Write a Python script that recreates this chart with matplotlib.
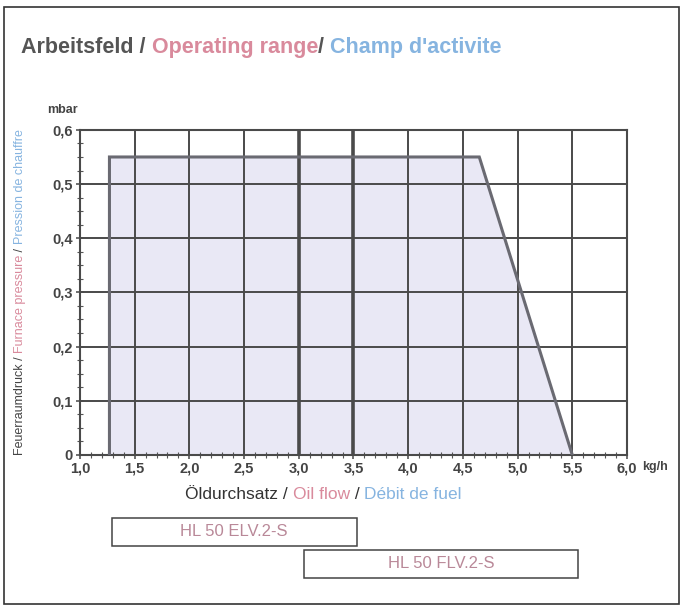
import matplotlib.pyplot as plt
from matplotlib.patches import Rectangle
from matplotlib.transforms import offset_copy, blended_transform_factory
from matplotlib.ticker import MultipleLocator

plt.rcParams['font.family'] = ['Liberation Sans', 'DejaVu Sans']

# operating range polygon (oil flow kg/h, furnace pressure mbar)
flow = [1.27, 1.27, 4.65, 5.5]
pressure = [0.0, 0.55, 0.55, 0.0]

x_ticks = [1.0, 1.5, 2.0, 2.5, 3.0, 3.5, 4.0, 4.5, 5.0, 5.5, 6.0]
x_labels = ['1,0', '1,5', '2,0', '2,5', '3,0', '3,5', '4,0', '4,5', '5,0', '5,5', '6,0']
y_ticks = [0.0, 0.1, 0.2, 0.3, 0.4, 0.5, 0.6]
y_labels = ['0', '0,1', '0,2', '0,3', '0,4', '0,5', '0,6']

# burner models and their flow ranges
models = ['HL 50 ELV.2-S', 'HL 50 FLV.2-S']
model_from = [1.29, 3.05]
model_to = [3.53, 5.55]

GREY = '#555555'
PINK = '#d98a9c'
BLUE = '#86b4e0'

fig = plt.figure(figsize=(6.83, 6.09), dpi=100)
ax = fig.add_axes([0.117, 0.253, 0.801, 0.5337])

ax.fill(flow, pressure, facecolor='#e9e8f5', edgecolor='none', zorder=1)
ax.plot(flow, pressure, color='#6a6a72', lw=2.2, zorder=3, solid_joinstyle='miter')

ax.set_xlim(1.0, 6.0)
ax.set_ylim(0, 0.6)
ax.set_xticks(x_ticks)
ax.set_xticklabels(x_labels)
ax.set_yticks(y_ticks)
ax.set_yticklabels(y_labels)
ax.xaxis.set_minor_locator(MultipleLocator(0.1))
ax.yaxis.set_minor_locator(MultipleLocator(0.025))
ax.tick_params(which='major', direction='inout', length=6, width=1.2, color=GREY,
               labelsize=10.5, labelcolor='#444444', pad=2)
ax.tick_params(which='minor', direction='inout', length=4, width=0.8, color=GREY)
for lab in ax.get_xticklabels() + ax.get_yticklabels():
    lab.set_fontweight('bold')

for xv in x_ticks[1:-1]:
    w = 2.6 if xv in (3.0, 3.5) else 1.4
    ax.axvline(xv, color='#4a4a4a', lw=w, zorder=2)
for yv in y_ticks[1:-1]:
    ax.axhline(yv, color='#4a4a4a', lw=1.4, zorder=2)
for s in ax.spines.values():
    s.set_color('#4a4a4a')
    s.set_linewidth(1.5)

# outer frame
fig.patches.append(Rectangle((0.006, 0.008), 0.988, 0.98, transform=fig.transFigure,
                             fill=False, edgecolor='#333333', lw=1.2))


def rainbow(x, y, parts, size, rotation=0, weight='normal'):
    fig.canvas.draw()
    renderer = fig.canvas.get_renderer()
    t = fig.transFigure
    for s, c in parts:
        if rotation == 0:
            txt = fig.text(x, y, s, color=c, fontsize=size, transform=t, weight=weight,
                           ha='left', va='baseline')
        else:
            txt = fig.text(x, y, s, color=c, fontsize=size, transform=t, rotation=90,
                           weight=weight, ha='center', va='bottom')
        txt.draw(renderer)
        ex = txt.get_window_extent(renderer)
        if rotation == 0:
            t = offset_copy(txt.get_transform(), x=ex.width, units='dots')
        else:
            t = offset_copy(txt.get_transform(), y=ex.height, units='dots')


rainbow(0.031, 1 - 53 / 609, [('Arbeitsfeld / ', GREY), ('Operating range', PINK),
                              ('/ ', GREY), ("Champ d'activite", BLUE)], 15.5,
        weight='bold')
rainbow(0.271, 1 - 499 / 609, [('Öldurchsatz / ', '#333333'), ('Oil flow', PINK),
                               (' / ', '#333333'), ('Débit de fuel', BLUE)], 12.5)
rainbow(0.030, 1 - 455 / 609, [('Feuerraumdruck / ', '#444444'), ('Furnace pressure', PINK),
                               (' / ', '#444444'), ('Pression de chauffre', BLUE)], 9,
        rotation=90)

fig.text(0.069, 1 - 110 / 609, 'mbar', fontsize=9, color='#444444', weight='bold',
         ha='left', va='center')
fig.text(0.94, 1 - 467 / 609, 'kg/h', fontsize=9, color='#444444', weight='bold',
         ha='left', va='center')

# model range boxes below the chart
bt = blended_transform_factory(ax.transData, fig.transFigure)
box_y = [1 - 546 / 609, 1 - 578 / 609]
box_h = 28 / 609
for name, x0, x1, yb in zip(models, model_from, model_to, box_y):
    ax.add_patch(Rectangle((x0, yb), x1 - x0, box_h, transform=bt, fill=False,
                           edgecolor='#444444', lw=1.1, clip_on=False))
    ax.text((x0 + x1) / 2, yb + box_h / 2, name, transform=bt, ha='center', va='center',
            fontsize=12, color='#b98898', clip_on=False)

fig.savefig('out.png', dpi=100)
